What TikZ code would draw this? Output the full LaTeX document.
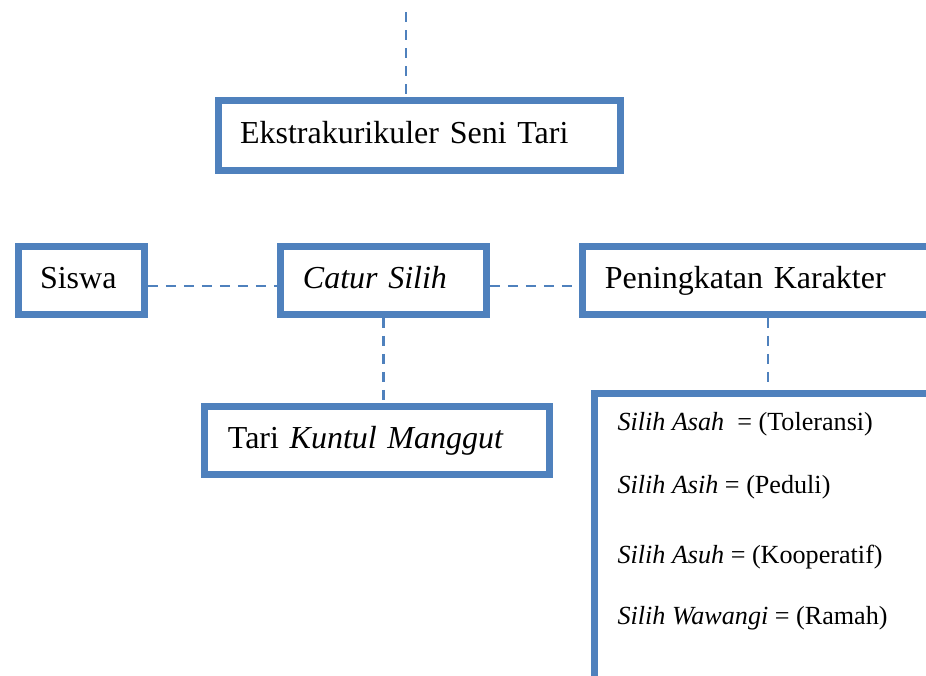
\documentclass[tikz,border=0pt]{standalone}
\usepackage{fontspec}
\setmainfont{Liberation Serif}
\definecolor{boxblue}{RGB}{79,129,189}
\begin{document}
\begin{tikzpicture}[x=0.375pt,y=-0.375pt]
      \tikzstyle{every node}+=[inner sep=0pt]
      \tikzstyle{kotak}=[draw=boxblue, line width=2.6pt, text height=9pt, text depth=3pt, align=left, font=\fontsize{12}{14}\selectfont]
      \tikzstyle{nilaiteks}=[anchor=base west, font=\fontsize{9.8}{12}\selectfont]
      \tikzstyle{garis}=[draw=boxblue, line width=0.95pt, dash pattern=on 3.75pt off 3pt]
      \useasboundingbox (0,0) rectangle (926,675);
      \clip (0,0) rectangle (926,675);
      % kotak utama
      \node [kotak, inner xsep=8.06pt, text width=134.6pt, minimum height=26.25pt] (ekskul) at (419.5,135.5) {Ekstrakurikuler Seni Tari};
      \node [kotak, inner xsep=8.06pt, text width=31.1pt, minimum height=25.5pt] (siswa) at (81.5,280.5) {Siswa};
      \node [kotak, inner xsep=8.4pt, text width=60.45pt, minimum height=25.5pt] (catur) at (383.5,280.5) {\textit{Catur Silih}};
      \node [kotak, inner xsep=8.4pt, text width=122.3pt, minimum height=25.5pt] (karakter) at (768,280.5) {Peningkatan Karakter};
      \node [kotak, inner xsep=8.8pt, text width=111.8pt, minimum height=25.5pt] (tari) at (377,440.5) {Tari \textit{Kuntul Manggut}};
      \node [draw=boxblue, line width=2.45pt, minimum width=130.1pt, minimum height=115pt] (nilai) at (768,546.75) {};
      % isi nilai
      \node [nilaiteks] (asah) at (617,430) {\textit{Silih Asah}\ \ = (Toleransi)};
      \node [nilaiteks] (asih) at (617,493) {\textit{Silih Asih} = (Peduli)};
      \node [nilaiteks] (asuh) at (617,563) {\textit{Silih Asuh} = (Kooperatif)};
      \node [nilaiteks] (wawangi) at (617,624) {\textit{Silih Wawangi} = (Ramah)};
      % garis putus-putus
      \coordinate (atas) at (406,12);
      \draw [garis] (atas) -- (ekskul.north -| atas);
      \draw [garis] ([yshift=-2pt]siswa.east) -- ([yshift=-2pt]catur.west);
      \draw [garis] ([yshift=-2pt]catur.east) -- ([yshift=-2pt]karakter.west);
      \draw [garis] (catur.south) -- (catur.south |- tari.north);
      \draw [garis] (karakter.south) -- (nilai.north);
\end{tikzpicture}
\end{document}
